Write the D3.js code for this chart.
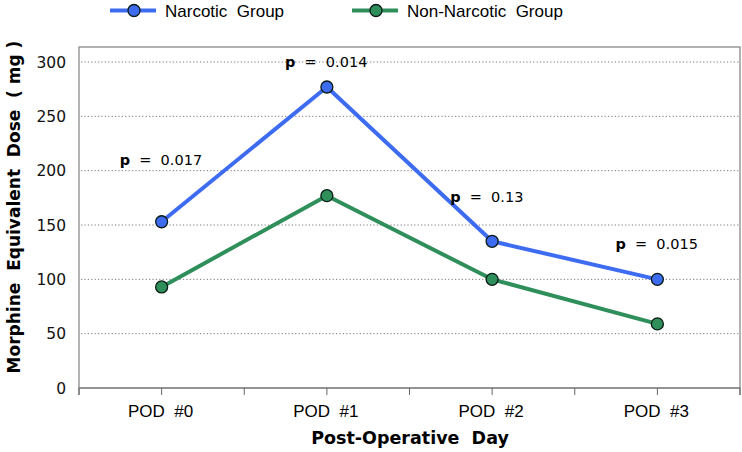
<!DOCTYPE html>
<html><head><meta charset="utf-8">
<script src="https://cdn.jsdelivr.net/npm/d3@7"></script>
<style>body{margin:0;background:#fff}svg{display:block}text{white-space:pre}</style>
</head><body><svg id="c" width="742" height="452"></svg>
<script>
const categories = ["POD #0", "POD #1", "POD #2", "POD #3"];
const narcotic = [153, 277, 135, 100];
const nonNarcotic = [93, 177, 100, 59];
const pLabels = ["p  =  0.017", "p  =  0.014", "p  =  0.13", "p  =  0.015"];
const pLabelPos = [210, 300, 176, 133]; // value-level of each label
const yTicks = [0, 50, 100, 150, 200, 250, 300];
const seriesNames = ["Narcotic  Group", "Non-Narcotic  Group"];
const colors = ["#3d6cf0", "#2f8f5b"];

const svg = d3.select("#c");
const L = 79, R = 740, T = 47, B = 388;
const x = d3.scaleBand().domain(categories).range([L, R]).padding(0);
const y = d3.scaleLinear().domain([0, 300]).range([B, 62]);

// plot box
svg.append("rect").attr("x", L).attr("y", T).attr("width", R - L).attr("height", B - T)
  .attr("fill", "none").attr("stroke", "#8a8a8a").attr("stroke-width", 1.3);

// gridlines
svg.append("g").selectAll("line").data(yTicks.filter(d => d > 0)).join("line")
  .attr("x1", L + 2).attr("x2", R).attr("y1", d => y(d)).attr("y2", d => y(d))
  .attr("stroke", "#777").attr("stroke-width", 1).attr("stroke-dasharray", "1.2,2.2");

// y tick labels
svg.append("g").selectAll("text").data(yTicks).join("text")
  .attr("x", 66).attr("y", d => y(d)).attr("dy", "0.36em").attr("text-anchor", "end")
  .attr("font-family", "DejaVu Sans, Verdana, sans-serif").attr("font-size", 15.5).attr("fill", "#111")
  .text(d => d);

// x axis
const xa = svg.append("g").attr("transform", `translate(0,${B})`)
  .call(d3.axisBottom(x).tickSize(7).tickFormat(""));
xa.select(".domain").attr("stroke", "#8a8a8a").attr("stroke-width", 1.3).attr("d", `M${L},7V0H${R}V7`);
xa.selectAll(".tick line").attr("stroke", "#666");
// boundary ticks
const bounds = categories.map(c => x(c)).concat([R]);
xa.selectAll(".bt").data(bounds).join("line").attr("class", "bt")
  .attr("x1", d => d).attr("x2", d => d).attr("y1", 0).attr("y2", 7).attr("stroke", "#666");

// x tick labels
svg.append("g").selectAll("text").data(categories).join("text")
  .attr("x", d => x(d) + x.bandwidth() / 2 - 1).attr("y", 417).attr("text-anchor", "middle")
  .attr("font-family", "Liberation Sans, Arial, sans-serif").attr("font-size", 17).attr("fill", "#000")
  .text(d => d.replace(" ", "  "));

// axis titles
svg.append("text").attr("x", 410).attr("y", 444).attr("text-anchor", "middle")
  .attr("font-family", "DejaVu Sans, Verdana, sans-serif").attr("font-weight", "bold")
  .attr("font-size", 17.5).attr("fill", "#000").text("Post-Operative  Day");
svg.append("text").attr("transform", "translate(20,207) rotate(-90)").attr("text-anchor", "middle")
  .attr("font-family", "DejaVu Sans, Verdana, sans-serif").attr("font-weight", "bold")
  .attr("font-size", 17).attr("fill", "#000").text("Morphine  Equivalent  Dose  ( mg )");

// lines
const cx = d => x(d) + x.bandwidth() / 2;
const line = d3.line().x((d, i) => cx(categories[i])).y(d => y(d));
[narcotic, nonNarcotic].forEach((s, k) => {
  svg.append("path").datum(s).attr("d", line).attr("fill", "none")
    .attr("stroke", colors[k]).attr("stroke-width", 4).attr("stroke-linejoin", "round");
});
[narcotic, nonNarcotic].forEach((s, k) => {
  svg.append("g").selectAll("circle").data(s).join("circle")
    .attr("cx", (d, i) => cx(categories[i])).attr("cy", d => y(d)).attr("r", 6)
    .attr("fill", colors[k]).attr("stroke", "#0a1a14").attr("stroke-width", 1.3);
});

// p labels
const pl = svg.append("g").selectAll("text").data(pLabels).join("text")
  .attr("x", (d, i) => cx(categories[i]) - 42).attr("y", (d, i) => y(pLabelPos[i]))
  .attr("dy", "0.36em")
  .attr("font-family", "DejaVu Sans, Verdana, sans-serif").attr("font-size", 14.5).attr("fill", "#000");
pl.append("tspan").attr("font-weight", "bold").text(d => d.slice(0, 1));
pl.append("tspan").text(d => d.slice(1));

// legend
const lg = svg.append("g");
const lx = [110, 352];
seriesNames.forEach((n, k) => {
  lg.append("line").attr("x1", lx[k]).attr("x2", lx[k] + 46).attr("y1", 10.5).attr("y2", 10.5)
    .attr("stroke", colors[k]).attr("stroke-width", 4);
  lg.append("circle").attr("cx", lx[k] + 24).attr("cy", 10.5).attr("r", 6)
    .attr("fill", colors[k]).attr("stroke", "#0a1a14").attr("stroke-width", 1.3);
  lg.append("text").attr("x", lx[k] + 55).attr("y", 10.5).attr("dy", "0.36em")
    .attr("font-family", "Liberation Sans, Arial, sans-serif").attr("font-size", 17).attr("fill", "#000")
    .text(n);
});
</script></body></html>
